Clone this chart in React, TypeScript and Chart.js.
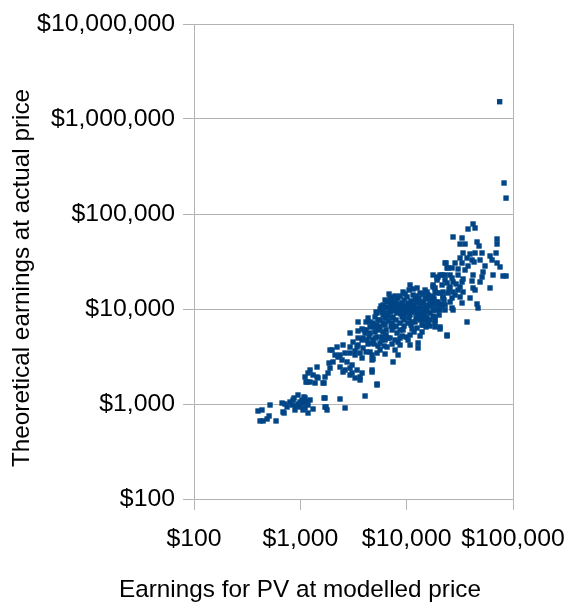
import React, { useEffect, useRef } from 'react';
import { Chart, registerables } from 'chart.js';

Chart.register(...registerables);

const xTickValues = [100, 1000, 10000, 100000];
const yTickValues = [100, 1000, 10000, 100000, 1000000, 10000000];
const xTitle = 'Earnings for PV at modelled price';
const yTitle = 'Theoretical earnings at actual price';
const pointColor = '#004586';

// Earnings for PV at modelled price (x)
const modelledEarnings = [
  // low cluster
  400, 436, 418, 446, 487, 508, 519, 591, 673, 687, 703, 800, 854, 891, 951, 993, 1060, 1107, 1156, 1181, 1234, 1317,
  1671, 1707, 1783, 2362, 2634, 4062, 5267, 1131, 1375, 1671, 3645, 951, 1037, 1107, 911, 993, 1181, 1060, 836, 750, 718, 873,
  // small group above
  1436, 1234, 1107, 1156, 1181, 1317, 1436, 1635, 1707, 1745, 1822, 1862, 1902,
  // rising band
  5743, 6263, 5267, 5997, 6540, 5620, 4830, 4151, 4526, 5997, 5267, 3490, 2935, 4062, 4526, 5267, 5869, 3490, 3132, 3806,
  4242, 4727, 5620, 6263, 2521, 2935, 3416, 3890, 4526, 5267, 1987, 2214, 2120, 2362, 2634, 2935, 3271, 3645, 4727, 2262,
  2030, 2467, 2750, 1902, 2362, 2634, 2935, 3416, 3806, 4727, 1467, 1707, 1234, 5267, 1083, 3271, 2935, 3645,
  // dense cluster
  22960, 23980, 17710, 19730, 21520, 10760, 12520, 14890, 17710, 9248, 7447, 6979, 8299, 10084, 11480, 13360, 15890, 19310,
  21990, 24500, 5997, 6683, 7777, 9050, 10305, 12520, 14260, 17330, 19730, 22960, 5869, 6979, 8121, 9248, 10760, 12800,
  14890, 17710, 20600, 5043, 6263, 7447, 9050, 10760, 12800, 15550, 18490, 5267, 6263, 7288, 8666, 10305, 11990, 13950,
  15890, 18490, 20600, 5043, 5997, 7288, 8666, 10760, 13950, 23980, 4830, 5869, 6979, 8299, 10760, 12800, 5382, 6540,
  7777, 4727, 6263, 8666, 12800, 4830, 7447,
  // upper right spread
  42100, 43960, 37780, 27300, 33180, 31770, 35400, 70770, 70770, 45900, 47940, 51150, 33900, 39450, 43960, 60820, 69260,
  31770, 36970, 41200, 48980, 63510, 70770, 75520, 23460, 28510, 33180, 54580, 24500, 30430, 35400, 52270, 64900, 80590,
  86000, 20600, 25590, 30430, 42100, 51150, 19310, 22960, 27300, 33180, 41200, 48980, 17710, 21520, 25590, 31770, 42100,
  60820, 15550, 18490, 21990, 27300, 33900, 43960, 14890, 17710, 21990, 26720, 31770, 39450, 14260, 17330, 21520, 26720,
  33180, 45900, 46910, 15550, 19310, 22960, 27300, 14890, 18490, 15890, 18490, 14260, 36970, 20600, 23980,
  // core
  7947, 8480, 9450, 9868, 11000, 11740, 13080, 13650, 15220, 16240, 8121, 8856, 9657, 10530, 11480, 12250, 13360, 14570,
  6540, 7132, 6400, 5620, 5382, 6683, 7610, 8121, 9450, 9868, 11240, 12520, 13360, 16590, 18100, 19310, 20170, 22470,
  25590, 28510, 30430, 23980, 26720,
  // core fill
  6829, 7288, 7777, 8666, 9657, 10530, 11480, 12250, 14260, 16590, 18490, 20600,
  7447, 8480, 9248, 10084, 11000, 11990, 13080, 13950, 15220, 16590, 18100,
  6683, 7288, 7947, 9450, 11240, 12250, 14570, 16590,
  7947, 9248, 11740, 13360, 16590,
  3490, 3806, 4151, 4430, 4936, 5620, 6129, 6683, 7288,
  5500, 6400, 4936, 4335, 3890, 3490, 3271, 4151, 3806, 3065, 2521, 3065, 4727,
  8666, 10305, 8299,
  22960, 26720, 19310,
  // more core
  6263, 7132, 7610, 8299, 8856, 9450, 10305, 11240, 11990, 12800, 13950, 15550, 16960, 18900, 21060,
  5620, 6400, 7132, 7777, 5043, 4335, 3975, 4526, 5154, 9050, 11000, 15220, 17710,
  25040, 29140, 33900, 37780, 43020,
  // outliers
  74900, 82350, 86000,
];

// Theoretical earnings at actual price (y)
const actualEarnings = [
  // low cluster
  844, 865, 663, 663, 696, 748, 976, 663, 1024, 824, 804, 1050, 1102, 865, 1244, 930, 1024, 908, 1050, 804, 1102, 886,
  1157, 930, 865, 1129, 908, 1214, 1624, 1704, 1664, 1664, 1789, 1000, 1102, 1157, 953, 1050, 976, 865, 976, 930, 1000, 1157,
  // small group above
  2450, 2280, 1924, 1704, 2120, 2020, 1924, 1664, 1157, 930, 2120, 2700, 3702,
  // rising band
  10760, 10240, 9070, 8647, 8647, 7660, 7120, 7300, 6470, 7120, 6160, 5870, 5590, 5590, 5590, 5070, 5070, 4950, 4490, 4717,
  4717, 4390, 4390, 4717, 4179, 3980, 3980, 3890, 3530, 3440, 3702, 3980, 3280, 3280, 3440, 3440, 3280, 3440, 2905, 3120,
  2770, 2905, 2770, 2390, 2450, 2280, 2390, 2280, 2120, 2280, 1880, 1924, 1704, 1585, 1187, 1880, 2020, 1924,
  // dense cluster
  30500, 27020, 22800, 21720, 22800, 17900, 16650, 15850, 17060, 15100, 13380, 13060, 13060, 13380, 14040, 14740, 14040, 14740,
  13380, 14740, 11020, 10500, 11020, 11570, 11570, 11850, 11850, 11570, 11850, 11020, 9300, 9300, 9761, 9761, 10240, 10240,
  9761, 9761, 9761, 8240, 8040, 8240, 8240, 8647, 8240, 8040, 7660, 6786, 6786, 7120, 7120, 7120, 7300, 6786,
  7300, 6470, 6160, 5730, 5730, 6011, 6011, 5325, 5730, 5325, 4717, 4717, 4950, 4490, 4179, 4390, 4080, 3980,
  3702, 3280, 3360, 4179, 3890, 2980, 2770,
  // upper right spread
  78500, 71200, 69500, 57300, 55900, 48300, 48300, 54550, 48300, 50740, 46040, 38860, 38860, 37930, 38860, 36140, 38860,
  34430, 34430, 32800, 32800, 32800, 30500, 27700, 30500, 30500, 30500, 28360, 27020, 26370, 25740, 24520, 22800, 22250,
  22250, 22800, 22800, 22800, 22800, 21720, 20200, 20200, 19250, 19250, 19720, 19250, 17900, 17900, 17060, 17060, 16650,
  16650, 15100, 15100, 15100, 15100, 15100, 15850, 13060, 13380, 13060, 13060, 13380, 13060, 11570, 11020, 11290, 10250,
  11570, 11290, 10240, 9300, 9761, 9761, 9761, 8240, 8240, 7120, 7120, 6786, 7300, 6470, 5200,
  // core
  11850, 10760, 12440, 10760, 12140, 10760, 13060, 11020, 12740, 10760, 9070, 8860, 9300, 8040, 9300, 9070, 8860, 9070,
  11850, 10240, 9070, 10000, 7660, 7470, 6470, 5590, 6620, 5070, 6160, 6310, 7660, 9070, 12740, 11020, 8647, 12440,
  11850, 14040, 15850, 18790, 21200,
  // core fill
  14380, 12440, 13700, 13700, 14380, 15850, 16240, 13700, 14380, 13700, 16650, 14740,
  10500, 9300, 10760, 10000, 9530, 10000, 11570, 10000, 11020, 12140, 9761,
  8440, 8040, 7660, 7660, 7300, 8040, 7660, 7660,
  6620, 6011, 5730, 5200, 6620,
  7300, 6160, 6011, 5070, 4280, 3702, 4080, 4950, 4280,
  6011, 6011, 6470, 8040, 4950, 4179, 3610, 3530, 3050, 2574, 2170, 2120, 2170,
  4950, 4717, 3280,
  22800, 27020, 21200,
  // more core
  12440, 11570, 9530, 11290, 10240, 8440, 9070, 11020, 12440, 9530, 8440, 10000, 13380, 11850, 10760,
  6470, 5325, 6620, 4717, 4950, 4280, 6011, 7300, 9300, 5200, 6786, 6470, 8440,
  16240, 18340, 20690, 28360, 31250,
  // outliers
  1520000, 212000, 147000,
];

const fontFamily = '"Liberation Sans", Arial, sans-serif';
const gridColor = '#b3b3b3';
const tickFontSize = 24.8;
const titleFontSize = 24.3;

const formatDollar = (v: number) => '$' + Number(v).toLocaleString('en-US');

const decorPlugin = {
  id: 'decor',
  beforeDatasetsDraw(chart: any) {
    const { ctx, chartArea: a } = chart;
    ctx.save();
    ctx.strokeStyle = gridColor;
    ctx.lineWidth = 1;
    ctx.beginPath();
    ctx.moveTo(Math.round(a.right) + 0.5, a.top);
    ctx.lineTo(Math.round(a.right) + 0.5, a.bottom);
    ctx.stroke();
    ctx.restore();
  },
  afterDraw(chart: any) {
    const { ctx } = chart;
    ctx.save();
    ctx.fillStyle = '#000';
    ctx.font = `${titleFontSize}px ${fontFamily}`;
    ctx.textAlign = 'center';
    ctx.textBaseline = 'middle';
    ctx.fillText(xTitle, 300, 590);
    ctx.translate(22, 278);
    ctx.rotate(-Math.PI / 2);
    ctx.fillText(yTitle, 0, 0);
    ctx.restore();
  },
};

export default function App() {
  const canvasRef = useRef<HTMLCanvasElement | null>(null);

  useEffect(() => {
    const canvas = canvasRef.current;
    if (!canvas) return;
    const points = modelledEarnings.map((x, i) => ({ x, y: actualEarnings[i] }));
    const chart = new Chart(canvas, {
      type: 'scatter',
      data: {
        datasets: [
          {
            data: points,
            pointStyle: 'rect',
            pointRadius: 3.8,
            borderWidth: 0,
            backgroundColor: pointColor,
            borderColor: pointColor,
          },
        ],
      },
      options: {
        responsive: false,
        animation: false,
        layout: { padding: { top: 24, right: 57, bottom: 0, left: 0 } },
        plugins: { legend: { display: false }, tooltip: { enabled: false } },
        scales: {
          x: {
            type: 'logarithmic',
            min: 100,
            max: 100000,
            afterBuildTicks: (s: any) => {
              s.ticks = xTickValues.map((v) => ({ value: v }));
            },
            afterFit: (s: any) => {
              s.height = 104;
              s.paddingLeft = 0;
              s.paddingRight = 0;
            },
            grid: { drawOnChartArea: false, drawTicks: true, tickLength: 11, color: gridColor },
            border: { color: gridColor },
            ticks: {
              color: '#000',
              font: { size: tickFontSize, family: fontFamily },
              padding: 14,
              maxRotation: 0,
              autoSkip: false,
              callback: (v: any) => formatDollar(v),
            },
          },
          y: {
            type: 'logarithmic',
            min: 100,
            max: 10000000,
            afterBuildTicks: (s: any) => {
              s.ticks = yTickValues.map((v) => ({ value: v }));
            },
            afterFit: (s: any) => {
              s.width = 194;
              s.paddingTop = 0;
              s.paddingBottom = 0;
            },
            grid: { drawOnChartArea: true, drawTicks: true, tickLength: 11, color: gridColor },
            border: { color: gridColor },
            ticks: {
              color: '#000',
              font: { size: tickFontSize, family: fontFamily },
              padding: 8,
              autoSkip: false,
              callback: (v: any) => formatDollar(v),
            },
          },
        },
      },
      plugins: [decorPlugin],
    });
    return () => chart.destroy();
  }, []);

  return (
    <div style={{ position: 'fixed', left: 0, top: 0, width: 570, height: 603, background: '#fff' }}>
      <canvas ref={canvasRef} width={570} height={603} style={{ display: 'block' }} />
    </div>
  );
}
